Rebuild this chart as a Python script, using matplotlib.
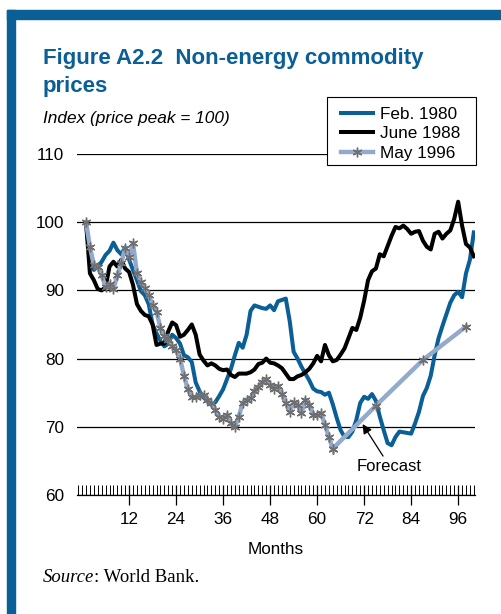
import matplotlib
matplotlib.use("Agg")
import matplotlib.pyplot as plt
from matplotlib.patches import Rectangle
from matplotlib.ticker import MultipleLocator, FixedLocator
import numpy as np

plt.rcParams['font.family'] = ['Liberation Sans', 'DejaVu Sans']

# Index, price peak = 100, monthly from the peak month
feb1980 = [100, 94.5, 93, 93.5, 94.2, 95.2, 95.8, 97, 95.9, 95.3,
           96.3, 94.5, 93, 91.5, 89.9, 89.3, 88, 85, 83.7, 82.6,
           81.8, 82.2, 83.5, 83, 82.2, 80.5, 80.2, 79.5, 76.5, 75.2,
           74.3, 73.8, 73.2, 73.6, 74.5, 75.5, 77, 78.5, 80.5, 82.3,
           81.6, 83.5, 87, 87.8, 87.6, 87.4, 87.3, 87.8, 87.1, 88.4,
           88.6, 88.8, 85.5, 81, 80, 78.8, 77.8, 76.8, 75.6, 75.2,
           75.1, 74.7, 75, 73.3, 71.3, 69.5, 68.5, 68.5, 69.3, 71,
           73.5, 74.4, 74.1, 74.8, 73.8, 71.5, 69.5, 67.6, 67.3, 68.5,
           69.3, 69.2, 69.1, 69, 70.5, 72.2, 74.5, 75.7, 77.5, 80.5,
           83, 84.8, 86.5, 88.2, 89.3, 89.8, 89, 92.5, 94.5, 98.5]

jun1988 = [100, 92.5, 91.5, 90.2, 90, 90.5, 93.5, 94.2, 93.5, 94.5,
           93.2, 92.7, 90.8, 88, 87, 86.4, 86.2, 85, 82, 82.2,
           82.2, 84, 85.3, 84.9, 83.2, 83.5, 84.2, 85, 83.5, 80.6,
           79.7, 79, 79.3, 79, 78.5, 78.3, 78.4, 77.6, 77.3, 77.8,
           77.8, 77.8, 78, 78.4, 79.2, 79.4, 80, 79.4, 79.3, 79,
           78.6, 77.8, 77, 77, 77.4, 77.6, 78, 78.5, 79.3, 80.4,
           79.6, 82, 80.5, 79.6, 79.8, 80.6, 81.5, 83, 84.5, 84.2,
           86, 88.5, 91.5, 92.8, 93.2, 95.3, 95, 96.5, 98, 99.3,
           99.1, 99.5, 99, 98.3, 98.6, 98.7, 97.3, 96.4, 96, 98.3,
           98.6, 97.6, 98.3, 98.8, 100.5, 103, 99.5, 96.8, 96.3, 95]

may1996 = [100, 96.4, 93.7, 93.5, 92.2, 90.5, 91, 90.2, 92.2, 94,
           96.2, 94.9, 96.9, 92.5, 91.2, 90.3, 89.3, 87.8, 86.9, 84.5,
           83.3, 82.7, 81.8, 81.2, 80, 77.5, 75.5, 74.4, 74.3, 74.6,
           74.6, 73.9, 73.5, 72.5, 71.5, 71.2, 71.8, 70.5, 70, 71.5,
           73.5, 74, 74.2, 75.2, 75.8, 76.5, 77, 76.2, 75.6, 76,
           74.8, 73.5, 72.2, 73.6, 73.2, 72, 74, 73.2, 71.8, 71.7,
           72, 70.3, 68.5, 66.8]

fc_months = [64, 75, 87, 98]
fc_values = [66.8, 73.1, 79.8, 84.7]

m_long = np.arange(1, len(feb1980) + 1)
m_96 = np.arange(1, len(may1996) + 1)

blue = '#0a5f97'
light = '#93aacb'
star = '#6e6e6e'
fs = 12
W, H = 502, 614

fig = plt.figure(figsize=(W / 100, H / 100), dpi=100)

# frame bars
fig.patches.append(Rectangle((7 / W, 0), 8 / W, 1 - 10 / H,
                             transform=fig.transFigure, color=blue, zorder=0))
fig.patches.append(Rectangle((7 / W, 1 - 18.5 / H), 1, 8.5 / H,
                             transform=fig.transFigure, color=blue, zorder=0))

fig.text(43 / W, 1 - 64 / H, 'Figure A2.2  Non-energy commodity',
         color=blue, fontsize=16, fontweight='bold', va='baseline')
fig.text(43 / W, 1 - 92 / H, 'prices',
         color=blue, fontsize=16, fontweight='bold', va='baseline')
fig.text(43 / W, 1 - 123 / H, 'Index (price peak = 100)',
         fontsize=12.4, style='italic', va='baseline')

ax = fig.add_axes([77 / W, 1 - 495 / H, 398 / W, 341 / H])

ax.plot(m_long, feb1980, color=blue, lw=2.9, label='Feb. 1980', zorder=3,
        solid_joinstyle='round')
ax.plot(m_long, jun1988, color='black', lw=2.9, label='June 1988', zorder=4,
        solid_joinstyle='round')
ax.plot(m_96, may1996, color=light, lw=3.2, marker=(6, 2, 0), ms=7,
        mec=star, mfc=star, mew=1.0, label='May 1996', zorder=5)
ax.plot(fc_months, fc_values, color=light, lw=3.2, marker=(6, 2, 0), ms=7,
        mec=star, mfc=star, mew=1.0, zorder=5)

ax.annotate('Forecast', xy=(71.6, 70.4), xytext=(78.5, 65.3),
            ha='center', va='top', fontsize=fs,
            arrowprops=dict(arrowstyle='-|>', color='black', lw=0.9,
                            mutation_scale=14, shrinkA=0, shrinkB=0),
            zorder=6)

ax.set_xlim(-1.3, 100.3)
ax.set_ylim(60, 110)
ax.set_yticks([60, 70, 80, 90, 100, 110])
ax.grid(axis='y', color='black', lw=0.9)
ax.set_axisbelow(True)
for s in ['top', 'right', 'left']:
    ax.spines[s].set_visible(False)
ax.spines['bottom'].set_linewidth(0.9)
ax.tick_params(axis='y', length=0, pad=9, labelsize=12.3)
ax.xaxis.set_major_locator(FixedLocator([12, 24, 36, 48, 60, 72, 84, 96]))
ax.xaxis.set_minor_locator(MultipleLocator(1))
ax.tick_params(axis='x', which='major', direction='inout', length=14,
               width=0.9, labelsize=12.3, pad=5)
ax.tick_params(axis='x', which='minor', direction='in', length=7, width=0.7)
ax.set_xlabel('Months', fontsize=12.3, labelpad=11)

# legend box drawn by hand, entries without frame
box = Rectangle((327 / W, 1 - 165 / H), 149 / W, 68 / H,
                transform=fig.transFigure, facecolor='white',
                edgecolor='black', lw=0.8, clip_on=False, zorder=9)
ax.add_patch(box)
leg = ax.legend(loc='upper left', bbox_to_anchor=(341 / W, 1 - 107 / H),
                bbox_transform=fig.transFigure, borderaxespad=0,
                frameon=False, fontsize=12.3, handlelength=1.85,
                handletextpad=0.42, labelspacing=0.26, borderpad=0)
leg.set_zorder(10)

src = fig.text(43 / W, 1 - 582 / H, 'Source', family='Liberation Serif',
               style='italic', fontsize=13.5, va='baseline')
fig.canvas.draw()
bb = src.get_window_extent(fig.canvas.get_renderer())
fig.text(bb.x1 / fig.bbox.width, 1 - 582 / H, ': World Bank.',
         family='Liberation Serif', fontsize=13.5, va='baseline')

fig.savefig('out.png', dpi=100)
